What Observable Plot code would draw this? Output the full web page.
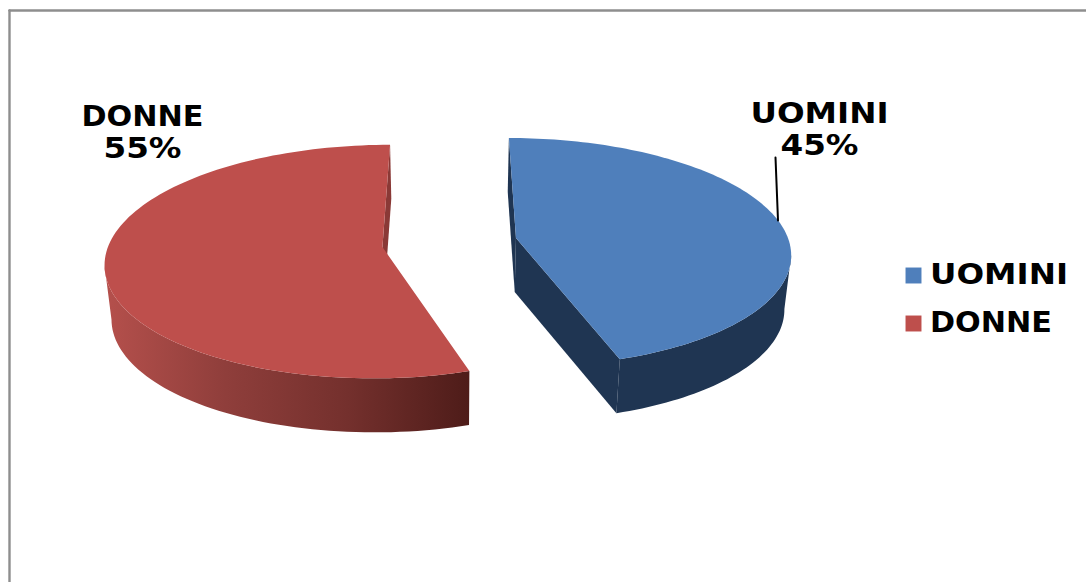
<!DOCTYPE html>
<html>
<head>
<meta charset="utf-8">
<script src="https://cdn.jsdelivr.net/npm/d3@7"></script>
<script src="https://cdn.jsdelivr.net/npm/@observablehq/plot@0.6"></script>
<style>
html,body{margin:0;padding:0;background:#fff;overflow:hidden}
svg{display:block}
</style>
</head>
<body>
<div id="chart"></div>
<script>
// Data
const categories = ["UOMINI", "DONNE"];
const percentages = [45, 55];
const topColors = ["#4F7FBB", "#BE4F4C"];
const cutColors = ["#1F3552", "#8A3936"];
const redWallStops = ["#B5504C", "#8F3E3B", "#74302D", "#4E1C19"];

// Drawing layout of the tilted pie
const W = 1086, H = 582;
const CX = 451, CY = 245, RX = 277, RY = 112, K = 0.122;
const DEPTH = 54, BASE_SHRINK = 0.98;
const sliceShift = [
  {dx: 65, dv: -0.067, dy: 0, rx: 0.99, ry: 1.02, side: 1},
  {dx: -68.5, dv: 0.067, dy: -6, rx: 0.983, ry: 1.01, side: -1}
];

const arcs = d3.pie().sort(null).startAngle(0).endAngle(2 * Math.PI)(percentages);

function project(i, t, r, base) {
  const s = sliceShift[i];
  const U = s.dx + RX * s.rx * r * Math.sin(t);
  const V = s.dv + r * s.ry * -Math.cos(t);
  const f = 1 / (1 - K * V);
  let x = CX + U * f, y = CY + s.dy + RY * V * f;
  if (base) { x = CX + (x - CX) * BASE_SHRINK; y += DEPTH; }
  return {x, y};
}
function rim(i, base) {
  const a = arcs[i], n = 120;
  return d3.range(n + 1).map(k => project(i, a.startAngle + (a.endAngle - a.startAngle) * k / n, 1, base));
}
const topFace = i => [project(i, 0, 0, false), ...rim(i, false)];
// The visible part of the outer wall: from the widest point of the rim round to the front edge.
function outerWall(i) {
  const upper = rim(i, false), lower = rim(i, true), side = sliceShift[i].side;
  const ext = d3.maxIndex(upper, p => side * p.x);
  const pick = a => i === 0 ? a.slice(ext) : a.slice(0, ext + 1);
  return [...pick(upper), ...pick(lower).reverse()];
}
function cutFace(i, angle) {
  return [project(i, 0, 0, false), project(i, angle, 1, false), project(i, angle, 1, true), project(i, 0, 0, true)];
}

// Gradient for the shaded red wall
const gradientDefs = () => {
  const defs = d3.create("svg:defs");
  const g = defs.append("linearGradient").attr("id", "redWall");
  redWallStops.forEach((c, k) => g.append("stop")
    .attr("offset", k / (redWallStops.length - 1)).attr("stop-color", c));
  return defs.node();
};

const polygon = (pts, fill) => Plot.line(pts, {x: "x", y: "y", fill, stroke: "none", curve: "linear"});

const labels = categories.map((c, i) => ({
  text: `${c}\n${percentages[i]}%`,
  x: [819, 142][i],
  y: [128.5, 131.5][i]
}));
const legend = categories.map((c, i) => ({name: c, color: topColors[i], y: [275, 323][i]}));
const frameTop = [{x: 9, y: 10}, {x: W, y: 10}];
const frameLeft = [{x: 9, y: 10}, {x: 9, y: H}];
const leader = [{x: 775, y: 157}, {x: 777.5, y: 220}];

const textFont = {fontFamily: "DejaVu Sans", fontWeight: "bold", fontSize: 28, fill: "#000"};

const plot = Plot.plot({
  width: W, height: H,
  margin: 0,
  x: {domain: [0, W], range: [0, W], axis: null},
  y: {domain: [0, H], range: [0, H], axis: null},
  style: {background: "#fff"},
  marks: [
    gradientDefs,
    Plot.line(frameTop, {x: "x", y: "y", stroke: "#8E8E8E", strokeWidth: 2.4}),
    Plot.line(frameLeft, {x: "x", y: "y", stroke: "#8E8E8E", strokeWidth: 2.4}),
    // red slice
    polygon(outerWall(1), "url(#redWall)"),
    polygon(cutFace(1, arcs[1].endAngle), cutColors[1]),
    polygon(topFace(1), topColors[1]),
    // blue slice
    polygon(outerWall(0), cutColors[0]),
    polygon(cutFace(0, arcs[0].startAngle), cutColors[0]),
    polygon(cutFace(0, arcs[0].endAngle), cutColors[0]),
    polygon(topFace(0), topColors[0]),
    // labels
    Plot.line(leader, {x: "x", y: "y", stroke: "#000", strokeWidth: 2}),
    Plot.text(labels, {x: "x", y: "y", text: "text", lineHeight: 1.12, textAnchor: "middle", ...textFont}),
    // legend
    Plot.dot(legend, {x: 913, y: "y", symbol: "square", r: 9, fill: "color", stroke: "none"}),
    Plot.text(legend, {x: 929.5, y: "y", text: "name", textAnchor: "start", ...textFont})
  ]
});
// The original's typeface is wider than DejaVu Sans Bold: stretch each line to the measured width
const widthOf = t => t.startsWith("UOMINI") ? 138 : t.startsWith("DONNE") ? 122 : 78;
d3.select(plot).selectAll("text, tspan").each(function () {
  if (this.children.length === 0) {
    this.setAttribute("textLength", widthOf(this.textContent));
    this.setAttribute("lengthAdjust", "spacingAndGlyphs");
  }
});
document.getElementById("chart").append(plot);
</script>
</body>
</html>
